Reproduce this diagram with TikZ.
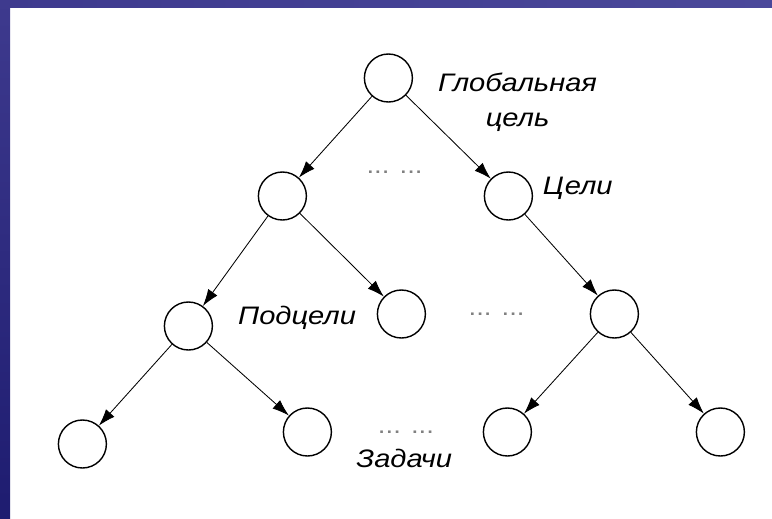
\documentclass[tikz,border=0pt]{standalone}
\usepackage{fontspec}
\setmainfont{Liberation Sans}[FakeStretch=1.15]
\usetikzlibrary{arrows.meta,positioning}

\definecolor{barTop}{RGB}{62,58,142}
\definecolor{barBottom}{RGB}{30,28,112}
\definecolor{barRight}{RGB}{74,72,154}

\begin{document}
\begin{tikzpicture}[
    goal_node/.style={on grid, circle, draw=black, line width=1pt, minimum size=1.2cm, inner sep=0pt},
    tree_label/.style={font=\fontsize{18}{24.5}\selectfont\itshape, text=black, inner sep=0pt, align=center},
    gap_dots/.style={font=\fontsize{17}{20}\selectfont, text=black!50, inner sep=0pt},
    arrow/.style={line width=0.6pt, -{Latex[length=12pt, width=8pt]}}
]

% Frame
\useasboundingbox (0,0) rectangle (19.3,-12.95);
\fill[top color=barTop, bottom color=barBottom] (0,0) rectangle (0.25,-12.95);
\fill[left color=barTop, right color=barRight] (0,0) rectangle (19.3,-0.175);

% Goal tree
\node[goal_node] (root) at (9.71,-1.95) {};
\node[goal_node, below left=2.95cm and 2.65cm of root] (goal_a) {};
\node[goal_node, below right=2.95cm and 3.0cm of root] (goal_b) {};

\node[goal_node, below left=3.25cm and 2.35cm of goal_a] (sub_a) {};
\node[goal_node, below right=2.95cm and 2.975cm of goal_a] (sub_b) {};
\node[goal_node, below right=2.95cm and 2.65cm of goal_b] (sub_c) {};

\node[goal_node, below left=2.95cm and 2.65cm of sub_a] (task_a) {};
\node[goal_node, below right=2.65cm and 2.975cm of sub_a] (task_b) {};
\node[goal_node, below left=2.95cm and 2.675cm of sub_c] (task_c) {};
\node[goal_node, below right=2.95cm and 2.65cm of sub_c] (task_d) {};

% Connections
\draw[arrow] (root) -- (goal_a);
\draw[arrow] (root) -- (goal_b);
\draw[arrow] (goal_a) -- (sub_a);
\draw[arrow] (goal_a) -- (sub_b);
\draw[arrow] (goal_b) -- (sub_c);
\draw[arrow] (sub_a) -- (task_a);
\draw[arrow] (sub_a) -- (task_b);
\draw[arrow] (sub_c) -- (task_c);
\draw[arrow] (sub_c) -- (task_d);

% Level labels
\node[tree_label, right=0.62cm of root, yshift=-0.61cm] (lbl_global) {Глобальная\\цель};
\node[tree_label, right=0.24cm of goal_b, yshift=0.19cm] (lbl_goals) {Цели};
\node[tree_label, right=0.62cm of sub_a, yshift=0.2cm] (lbl_subgoals) {Подцели};
\node[tree_label, right=0.6cm of task_b, yshift=-0.66cm] (lbl_tasks) {Задачи};

% Omitted branches
\node[gap_dots, right=1.48cm of goal_a, yshift=0.6cm] (dots_a) {... ...};
\node[gap_dots, left=1.62cm of sub_c] (dots_b) {... ...};
\node[gap_dots, right=1.14cm of task_b] (dots_c) {... ...};

\end{tikzpicture}
\end{document}
